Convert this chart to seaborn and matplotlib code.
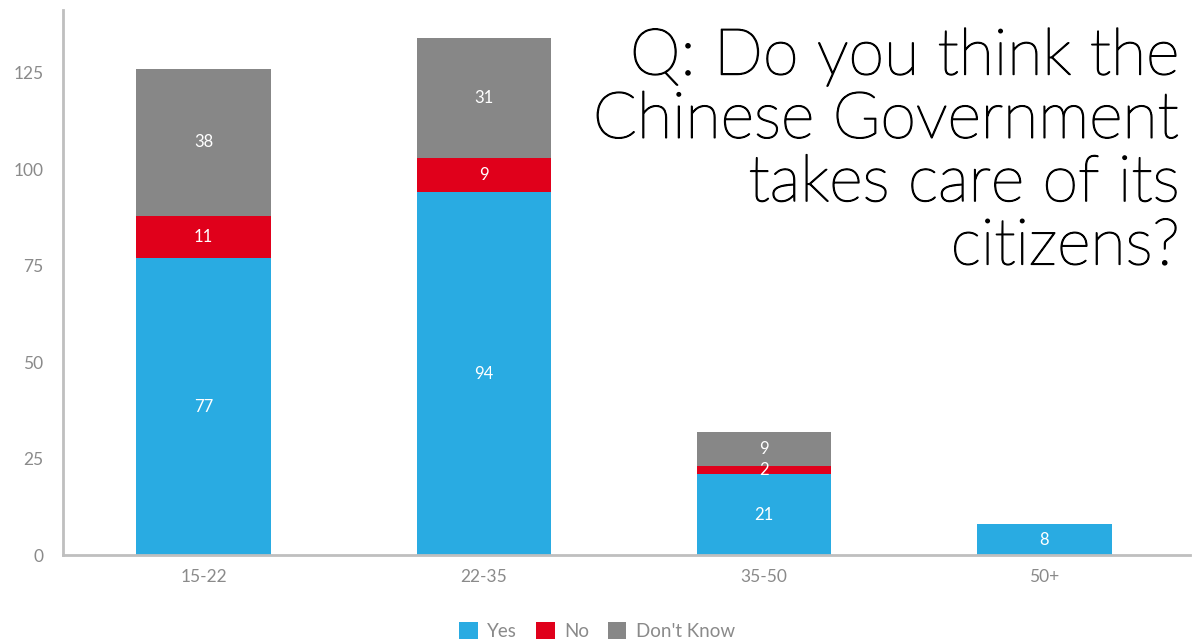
import matplotlib
matplotlib.use("Agg")
import matplotlib.pyplot as plt
import matplotlib.patheffects as pe
import seaborn as sns
import pandas as pd
import numpy as np
from matplotlib.patches import Patch

categories = ["15-22", "22-35", "35-50", "50+"]
yes = [77, 94, 21, 8]
no = [11, 9, 2, 0]
dont_know = [38, 31, 9, 0]
series_names = ["Yes", "No", "Don't Know"]
colors = ["#29ABE2", "#E0001B", "#878787"]
title = "Q: Do you think the\nChinese Government\ntakes care of its\ncitizens?"

sns.set_theme(style="white")
plt.rcParams["font.family"] = ["Lato", "DejaVu Sans"]

df = pd.DataFrame({"age": categories, "Yes": yes, "No": no, "Don't Know": dont_know})
df["c1"] = df["Yes"]
df["c2"] = df["Yes"] + df["No"]
df["c3"] = df["c2"] + df["Don't Know"]

fig = plt.figure(figsize=(11.94, 6.44), dpi=100)
ax = fig.add_axes([63/1194, 89/644, (1190-63)/1194, (555-10)/644])

for col, c in zip(["c3", "c2", "c1"], colors[::-1]):
    sns.barplot(data=df, x="age", y=col, color=c, width=0.48, ax=ax,
                saturation=1, linewidth=0, order=categories)

# labels
for i in range(len(categories)):
    bottoms = [0, yes[i], yes[i] + no[i]]
    for b, v in zip(bottoms, [yes[i], no[i], dont_know[i]]):
        if v > 0:
            ax.text(i, b + v / 2, str(v), ha="center", va="center",
                    color="white", fontsize=12)

ax.set_xlim(-0.502, 3.52)
ax.set_ylim(0, 141.3)
ax.set_yticks([0, 25, 50, 75, 100, 125])
ax.set_xlabel("")
ax.set_ylabel("")
for s in ["top", "right"]:
    ax.spines[s].set_visible(False)
for s in ["left", "bottom"]:
    ax.spines[s].set_color("#bfbfbf")
    ax.spines[s].set_linewidth(2)
ax.tick_params(axis="both", length=0, colors="#8a8a8a", labelsize=12.5)
ax.tick_params(axis="y", pad=14)
ax.tick_params(axis="x", pad=10)

fig.text(1180/1194, 1 - 27/644, title, ha="right", va="top", fontsize=46.5,
         color="#000000", linespacing=1.08, fontweight="light",
         path_effects=[pe.withStroke(linewidth=1.0, foreground="#000000")])

handles = [Patch(facecolor=c, edgecolor="none") for c in colors]
leg = fig.legend(handles, series_names, loc="center", bbox_to_anchor=(597/1194, 1 - 631/644),
                 ncol=3, frameon=False, fontsize=13.5, handlelength=1.0, handleheight=1.0,
                 columnspacing=1.0, handletextpad=0.5, labelcolor="#8a8a8a")

fig.savefig("out.png", dpi=100)
